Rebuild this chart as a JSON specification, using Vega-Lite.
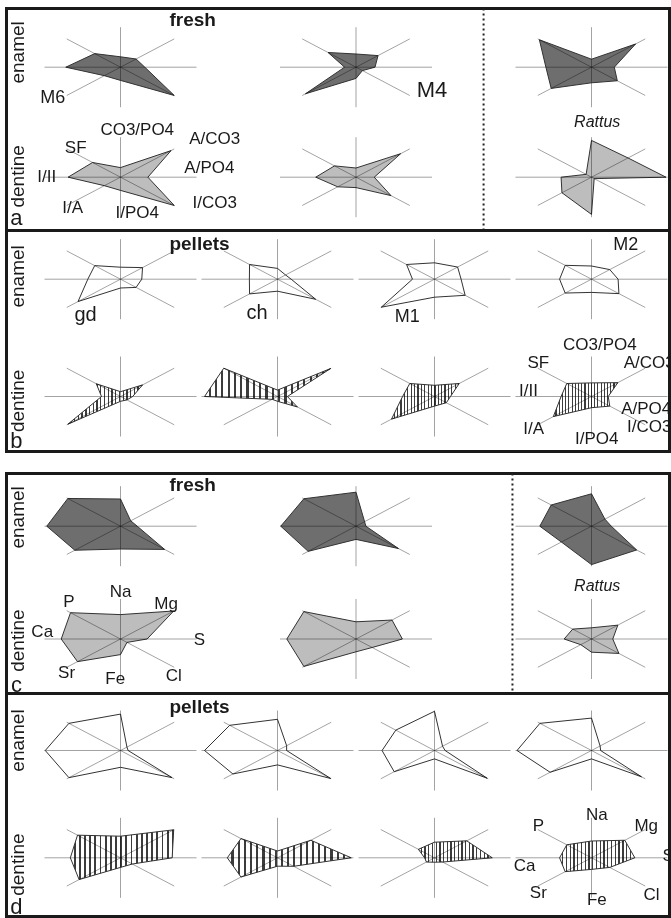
{
"$schema":"https://vega.github.io/schema/vega-lite/v6.json",
"background":"white",
"padding":{"left":4.5,"top":5.5,"right":0,"bottom":0},
"config":{"view":{"stroke":"#1a1a1a","strokeWidth":3},"font":"Liberation Sans","text":{"font":"Liberation Sans","color":"#1a1a1a"}},
"datasets":{
"isoAxes":[{"ax":"CO3/PO4","k":0},{"ax":"A/CO3","k":1},{"ax":"A/PO4","k":2},{"ax":"I/CO3","k":3},{"ax":"I/PO4","k":4},{"ax":"I/A","k":5},{"ax":"I/II","k":6},{"ax":"SF","k":7}],
"elemAxes":[{"ax":"Na","k":0},{"ax":"Mg","k":1},{"ax":"S","k":2},{"ax":"Cl","k":3},{"ax":"Fe","k":4},{"ax":"Sr","k":5},{"ax":"Ca","k":6},{"ax":"P","k":7}],
"iso":[
{"g":"fresh","s":"M6","t":"enamel","ax":"CO3/PO4","v":0.26},{"g":"fresh","s":"M6","t":"enamel","ax":"A/CO3","v":0.29},{"g":"fresh","s":"M6","t":"enamel","ax":"A/PO4","v":0.32},{"g":"fresh","s":"M6","t":"enamel","ax":"I/CO3","v":1.0},{"g":"fresh","s":"M6","t":"enamel","ax":"I/PO4","v":0.33},{"g":"fresh","s":"M6","t":"enamel","ax":"I/A","v":0.3},{"g":"fresh","s":"M6","t":"enamel","ax":"I/II","v":0.72},{"g":"fresh","s":"M6","t":"enamel","ax":"SF","v":0.48},
{"g":"fresh","s":"M6","t":"dentine","ax":"CO3/PO4","v":0.24},{"g":"fresh","s":"M6","t":"dentine","ax":"A/CO3","v":0.94},{"g":"fresh","s":"M6","t":"dentine","ax":"A/PO4","v":0.36},{"g":"fresh","s":"M6","t":"dentine","ax":"I/CO3","v":1.0},{"g":"fresh","s":"M6","t":"dentine","ax":"I/PO4","v":0.33},{"g":"fresh","s":"M6","t":"dentine","ax":"I/A","v":0.3},{"g":"fresh","s":"M6","t":"dentine","ax":"I/II","v":0.69},{"g":"fresh","s":"M6","t":"dentine","ax":"SF","v":0.52},
{"g":"fresh","s":"M4","t":"enamel","ax":"CO3/PO4","v":0.33},{"g":"fresh","s":"M4","t":"enamel","ax":"A/CO3","v":0.41},{"g":"fresh","s":"M4","t":"enamel","ax":"A/PO4","v":0.25},{"g":"fresh","s":"M4","t":"enamel","ax":"I/CO3","v":0.12},{"g":"fresh","s":"M4","t":"enamel","ax":"I/PO4","v":0.28},{"g":"fresh","s":"M4","t":"enamel","ax":"I/A","v":0.94},{"g":"fresh","s":"M4","t":"enamel","ax":"I/II","v":0.15},{"g":"fresh","s":"M4","t":"enamel","ax":"SF","v":0.52},
{"g":"fresh","s":"M4","t":"dentine","ax":"CO3/PO4","v":0.23},{"g":"fresh","s":"M4","t":"dentine","ax":"A/CO3","v":0.83},{"g":"fresh","s":"M4","t":"dentine","ax":"A/PO4","v":0.24},{"g":"fresh","s":"M4","t":"dentine","ax":"I/CO3","v":0.65},{"g":"fresh","s":"M4","t":"dentine","ax":"I/PO4","v":0.26},{"g":"fresh","s":"M4","t":"dentine","ax":"I/A","v":0.34},{"g":"fresh","s":"M4","t":"dentine","ax":"I/II","v":0.53},{"g":"fresh","s":"M4","t":"dentine","ax":"SF","v":0.4},
{"g":"fresh","s":"Rattus","t":"enamel","ax":"CO3/PO4","v":0.2},{"g":"fresh","s":"Rattus","t":"enamel","ax":"A/CO3","v":0.82},{"g":"fresh","s":"Rattus","t":"enamel","ax":"A/PO4","v":0.3},{"g":"fresh","s":"Rattus","t":"enamel","ax":"I/CO3","v":0.48},{"g":"fresh","s":"Rattus","t":"enamel","ax":"I/PO4","v":0.39},{"g":"fresh","s":"Rattus","t":"enamel","ax":"I/A","v":0.75},{"g":"fresh","s":"Rattus","t":"enamel","ax":"I/II","v":0.6},{"g":"fresh","s":"Rattus","t":"enamel","ax":"SF","v":0.97},
{"g":"fresh","s":"Rattus","t":"dentine","ax":"CO3/PO4","v":0.92},{"g":"fresh","s":"Rattus","t":"dentine","ax":"A/CO3","v":0.68},{"g":"fresh","s":"Rattus","t":"dentine","ax":"A/PO4","v":0.98},{"g":"fresh","s":"Rattus","t":"dentine","ax":"I/CO3","v":0.05},{"g":"fresh","s":"Rattus","t":"dentine","ax":"I/PO4","v":0.93},{"g":"fresh","s":"Rattus","t":"dentine","ax":"I/A","v":0.55},{"g":"fresh","s":"Rattus","t":"dentine","ax":"I/II","v":0.4},{"g":"fresh","s":"Rattus","t":"dentine","ax":"SF","v":0.1},
{"g":"pellets","s":"gd","t":"enamel","ax":"CO3/PO4","v":0.3},{"g":"pellets","s":"gd","t":"enamel","ax":"A/CO3","v":0.41},{"g":"pellets","s":"gd","t":"enamel","ax":"A/PO4","v":0.28},{"g":"pellets","s":"gd","t":"enamel","ax":"I/CO3","v":0.29},{"g":"pellets","s":"gd","t":"enamel","ax":"I/PO4","v":0.22},{"g":"pellets","s":"gd","t":"enamel","ax":"I/A","v":0.79},{"g":"pellets","s":"gd","t":"enamel","ax":"I/II","v":0.43},{"g":"pellets","s":"gd","t":"enamel","ax":"SF","v":0.48},
{"g":"pellets","s":"ch","t":"enamel","ax":"CO3/PO4","v":0.27},{"g":"pellets","s":"ch","t":"enamel","ax":"A/CO3","v":0.15},{"g":"pellets","s":"ch","t":"enamel","ax":"A/PO4","v":0.18},{"g":"pellets","s":"ch","t":"enamel","ax":"I/CO3","v":0.71},{"g":"pellets","s":"ch","t":"enamel","ax":"I/PO4","v":0.3},{"g":"pellets","s":"ch","t":"enamel","ax":"I/A","v":0.52},{"g":"pellets","s":"ch","t":"enamel","ax":"I/II","v":0.37},{"g":"pellets","s":"ch","t":"enamel","ax":"SF","v":0.52},
{"g":"pellets","s":"M1","t":"enamel","ax":"CO3/PO4","v":0.41},{"g":"pellets","s":"M1","t":"enamel","ax":"A/CO3","v":0.43},{"g":"pellets","s":"M1","t":"enamel","ax":"A/PO4","v":0.35},{"g":"pellets","s":"M1","t":"enamel","ax":"I/CO3","v":0.57},{"g":"pellets","s":"M1","t":"enamel","ax":"I/PO4","v":0.45},{"g":"pellets","s":"M1","t":"enamel","ax":"I/A","v":0.99},{"g":"pellets","s":"M1","t":"enamel","ax":"I/II","v":0.29},{"g":"pellets","s":"M1","t":"enamel","ax":"SF","v":0.52},
{"g":"pellets","s":"M2","t":"enamel","ax":"CO3/PO4","v":0.33},{"g":"pellets","s":"M2","t":"enamel","ax":"A/CO3","v":0.34},{"g":"pellets","s":"M2","t":"enamel","ax":"A/PO4","v":0.35},{"g":"pellets","s":"M2","t":"enamel","ax":"I/CO3","v":0.51},{"g":"pellets","s":"M2","t":"enamel","ax":"I/PO4","v":0.33},{"g":"pellets","s":"M2","t":"enamel","ax":"I/A","v":0.49},{"g":"pellets","s":"M2","t":"enamel","ax":"I/II","v":0.42},{"g":"pellets","s":"M2","t":"enamel","ax":"SF","v":0.49},
{"g":"pellets","s":"gd","t":"dentine","ax":"CO3/PO4","v":0.12},{"g":"pellets","s":"gd","t":"dentine","ax":"A/CO3","v":0.41},{"g":"pellets","s":"gd","t":"dentine","ax":"A/PO4","v":0.16},{"g":"pellets","s":"gd","t":"dentine","ax":"I/CO3","v":0.12},{"g":"pellets","s":"gd","t":"dentine","ax":"I/PO4","v":0.12},{"g":"pellets","s":"gd","t":"dentine","ax":"I/A","v":0.98},{"g":"pellets","s":"gd","t":"dentine","ax":"I/II","v":0.25},{"g":"pellets","s":"gd","t":"dentine","ax":"SF","v":0.45},
{"g":"pellets","s":"ch","t":"dentine","ax":"CO3/PO4","v":0.16},{"g":"pellets","s":"ch","t":"dentine","ax":"A/CO3","v":0.99},{"g":"pellets","s":"ch","t":"dentine","ax":"A/PO4","v":0.13},{"g":"pellets","s":"ch","t":"dentine","ax":"I/CO3","v":0.37},{"g":"pellets","s":"ch","t":"dentine","ax":"I/PO4","v":0.12},{"g":"pellets","s":"ch","t":"dentine","ax":"I/A","v":0.1},{"g":"pellets","s":"ch","t":"dentine","ax":"I/II","v":0.96},{"g":"pellets","s":"ch","t":"dentine","ax":"SF","v":1.0},
{"g":"pellets","s":"M1","t":"dentine","ax":"CO3/PO4","v":0.28},{"g":"pellets","s":"M1","t":"dentine","ax":"A/CO3","v":0.46},{"g":"pellets","s":"M1","t":"dentine","ax":"A/PO4","v":0.21},{"g":"pellets","s":"M1","t":"dentine","ax":"I/CO3","v":0.22},{"g":"pellets","s":"M1","t":"dentine","ax":"I/PO4","v":0.24},{"g":"pellets","s":"M1","t":"dentine","ax":"I/A","v":0.8},{"g":"pellets","s":"M1","t":"dentine","ax":"I/II","v":0.42},{"g":"pellets","s":"M1","t":"dentine","ax":"SF","v":0.46},
{"g":"pellets","s":"M2","t":"dentine","ax":"CO3/PO4","v":0.34},{"g":"pellets","s":"M2","t":"dentine","ax":"A/CO3","v":0.49},{"g":"pellets","s":"M2","t":"dentine","ax":"A/PO4","v":0.22},{"g":"pellets","s":"M2","t":"dentine","ax":"I/CO3","v":0.34},{"g":"pellets","s":"M2","t":"dentine","ax":"I/PO4","v":0.28},{"g":"pellets","s":"M2","t":"dentine","ax":"I/A","v":0.71},{"g":"pellets","s":"M2","t":"dentine","ax":"I/II","v":0.4},{"g":"pellets","s":"M2","t":"dentine","ax":"SF","v":0.46}
],
"elem":[
{"g":"fresh","s":"M6","t":"enamel","ax":"Na","v":0.68},{"g":"fresh","s":"M6","t":"enamel","ax":"Mg","v":0.19},{"g":"fresh","s":"M6","t":"enamel","ax":"S","v":0.22},{"g":"fresh","s":"M6","t":"enamel","ax":"Cl","v":0.82},{"g":"fresh","s":"M6","t":"enamel","ax":"Fe","v":0.57},{"g":"fresh","s":"M6","t":"enamel","ax":"Sr","v":0.85},{"g":"fresh","s":"M6","t":"enamel","ax":"Ca","v":0.97},{"g":"fresh","s":"M6","t":"enamel","ax":"P","v":0.98},
{"g":"fresh","s":"M6","t":"dentine","ax":"Na","v":0.61},{"g":"fresh","s":"M6","t":"dentine","ax":"Mg","v":0.99},{"g":"fresh","s":"M6","t":"dentine","ax":"S","v":0.35},{"g":"fresh","s":"M6","t":"dentine","ax":"Cl","v":0.12},{"g":"fresh","s":"M6","t":"dentine","ax":"Fe","v":0.39},{"g":"fresh","s":"M6","t":"dentine","ax":"Sr","v":0.8},{"g":"fresh","s":"M6","t":"dentine","ax":"Ca","v":0.78},{"g":"fresh","s":"M6","t":"dentine","ax":"P","v":0.93},
{"g":"fresh","s":"M4","t":"enamel","ax":"Na","v":0.85},{"g":"fresh","s":"M4","t":"enamel","ax":"Mg","v":0.16},{"g":"fresh","s":"M4","t":"enamel","ax":"S","v":0.13},{"g":"fresh","s":"M4","t":"enamel","ax":"Cl","v":0.79},{"g":"fresh","s":"M4","t":"enamel","ax":"Fe","v":0.33},{"g":"fresh","s":"M4","t":"enamel","ax":"Sr","v":0.89},{"g":"fresh","s":"M4","t":"enamel","ax":"Ca","v":0.99},{"g":"fresh","s":"M4","t":"enamel","ax":"P","v":0.97},
{"g":"fresh","s":"M4","t":"dentine","ax":"Na","v":0.43},{"g":"fresh","s":"M4","t":"dentine","ax":"Mg","v":0.67},{"g":"fresh","s":"M4","t":"dentine","ax":"S","v":0.61},{"g":"fresh","s":"M4","t":"dentine","ax":"Cl","v":0.3},{"g":"fresh","s":"M4","t":"dentine","ax":"Fe","v":0.32},{"g":"fresh","s":"M4","t":"dentine","ax":"Sr","v":0.97},{"g":"fresh","s":"M4","t":"dentine","ax":"Ca","v":0.91},{"g":"fresh","s":"M4","t":"dentine","ax":"P","v":0.97},
{"g":"fresh","s":"Rattus","t":"enamel","ax":"Na","v":0.81},{"g":"fresh","s":"Rattus","t":"enamel","ax":"Mg","v":0.25},{"g":"fresh","s":"Rattus","t":"enamel","ax":"S","v":0.26},{"g":"fresh","s":"Rattus","t":"enamel","ax":"Cl","v":0.84},{"g":"fresh","s":"Rattus","t":"enamel","ax":"Fe","v":0.96},{"g":"fresh","s":"Rattus","t":"enamel","ax":"Sr","v":0.56},{"g":"fresh","s":"Rattus","t":"enamel","ax":"Ca","v":0.68},{"g":"fresh","s":"Rattus","t":"enamel","ax":"P","v":0.75},
{"g":"fresh","s":"Rattus","t":"dentine","ax":"Na","v":0.28},{"g":"fresh","s":"Rattus","t":"dentine","ax":"Mg","v":0.49},{"g":"fresh","s":"Rattus","t":"dentine","ax":"S","v":0.28},{"g":"fresh","s":"Rattus","t":"dentine","ax":"Cl","v":0.51},{"g":"fresh","s":"Rattus","t":"dentine","ax":"Fe","v":0.33},{"g":"fresh","s":"Rattus","t":"dentine","ax":"Sr","v":0.2},{"g":"fresh","s":"Rattus","t":"dentine","ax":"Ca","v":0.36},{"g":"fresh","s":"Rattus","t":"dentine","ax":"P","v":0.35},
{"g":"pellets","s":"gd","t":"enamel","ax":"Na","v":0.91},{"g":"pellets","s":"gd","t":"enamel","ax":"Mg","v":0.12},{"g":"pellets","s":"gd","t":"enamel","ax":"S","v":0.1},{"g":"pellets","s":"gd","t":"enamel","ax":"Cl","v":0.96},{"g":"pellets","s":"gd","t":"enamel","ax":"Fe","v":0.42},{"g":"pellets","s":"gd","t":"enamel","ax":"Sr","v":0.96},{"g":"pellets","s":"gd","t":"enamel","ax":"Ca","v":0.99},{"g":"pellets","s":"gd","t":"enamel","ax":"P","v":0.96},
{"g":"pellets","s":"ch","t":"enamel","ax":"Na","v":0.78},{"g":"pellets","s":"ch","t":"enamel","ax":"Mg","v":0.17},{"g":"pellets","s":"ch","t":"enamel","ax":"S","v":0.12},{"g":"pellets","s":"ch","t":"enamel","ax":"Cl","v":0.99},{"g":"pellets","s":"ch","t":"enamel","ax":"Fe","v":0.36},{"g":"pellets","s":"ch","t":"enamel","ax":"Sr","v":0.83},{"g":"pellets","s":"ch","t":"enamel","ax":"Ca","v":0.96},{"g":"pellets","s":"ch","t":"enamel","ax":"P","v":0.89},
{"g":"pellets","s":"M1","t":"enamel","ax":"Na","v":0.98},{"g":"pellets","s":"M1","t":"enamel","ax":"Mg","v":0.15},{"g":"pellets","s":"M1","t":"enamel","ax":"S","v":0.14},{"g":"pellets","s":"M1","t":"enamel","ax":"Cl","v":0.98},{"g":"pellets","s":"M1","t":"enamel","ax":"Fe","v":0.21},{"g":"pellets","s":"M1","t":"enamel","ax":"Sr","v":0.75},{"g":"pellets","s":"M1","t":"enamel","ax":"Ca","v":0.69},{"g":"pellets","s":"M1","t":"enamel","ax":"P","v":0.72},
{"g":"pellets","s":"M2","t":"enamel","ax":"Na","v":0.81},{"g":"pellets","s":"M2","t":"enamel","ax":"Mg","v":0.16},{"g":"pellets","s":"M2","t":"enamel","ax":"S","v":0.12},{"g":"pellets","s":"M2","t":"enamel","ax":"Cl","v":0.93},{"g":"pellets","s":"M2","t":"enamel","ax":"Fe","v":0.21},{"g":"pellets","s":"M2","t":"enamel","ax":"Sr","v":0.77},{"g":"pellets","s":"M2","t":"enamel","ax":"Ca","v":0.98},{"g":"pellets","s":"M2","t":"enamel","ax":"P","v":0.96},
{"g":"pellets","s":"gd","t":"dentine","ax":"Na","v":0.54},{"g":"pellets","s":"gd","t":"dentine","ax":"Mg","v":0.99},{"g":"pellets","s":"gd","t":"dentine","ax":"S","v":0.68},{"g":"pellets","s":"gd","t":"dentine","ax":"Cl","v":0.22},{"g":"pellets","s":"gd","t":"dentine","ax":"Fe","v":0.24},{"g":"pellets","s":"gd","t":"dentine","ax":"Sr","v":0.77},{"g":"pellets","s":"gd","t":"dentine","ax":"Ca","v":0.66},{"g":"pellets","s":"gd","t":"dentine","ax":"P","v":0.8},
{"g":"pellets","s":"ch","t":"dentine","ax":"Na","v":0.17},{"g":"pellets","s":"ch","t":"dentine","ax":"Mg","v":0.62},{"g":"pellets","s":"ch","t":"dentine","ax":"S","v":0.97},{"g":"pellets","s":"ch","t":"dentine","ax":"Cl","v":0.3},{"g":"pellets","s":"ch","t":"dentine","ax":"Fe","v":0.21},{"g":"pellets","s":"ch","t":"dentine","ax":"Sr","v":0.68},{"g":"pellets","s":"ch","t":"dentine","ax":"Ca","v":0.66},{"g":"pellets","s":"ch","t":"dentine","ax":"P","v":0.68},
{"g":"pellets","s":"M1","t":"dentine","ax":"Na","v":0.39},{"g":"pellets","s":"M1","t":"dentine","ax":"Mg","v":0.6},{"g":"pellets","s":"M1","t":"dentine","ax":"S","v":0.76},{"g":"pellets","s":"M1","t":"dentine","ax":"Cl","v":0.15},{"g":"pellets","s":"M1","t":"dentine","ax":"Fe","v":0.11},{"g":"pellets","s":"M1","t":"dentine","ax":"Sr","v":0.15},{"g":"pellets","s":"M1","t":"dentine","ax":"Ca","v":0.13},{"g":"pellets","s":"M1","t":"dentine","ax":"P","v":0.3},
{"g":"pellets","s":"M2","t":"dentine","ax":"Na","v":0.42},{"g":"pellets","s":"M2","t":"dentine","ax":"Mg","v":0.62},{"g":"pellets","s":"M2","t":"dentine","ax":"S","v":0.57},{"g":"pellets","s":"M2","t":"dentine","ax":"Cl","v":0.34},{"g":"pellets","s":"M2","t":"dentine","ax":"Fe","v":0.29},{"g":"pellets","s":"M2","t":"dentine","ax":"Sr","v":0.49},{"g":"pellets","s":"M2","t":"dentine","ax":"Ca","v":0.42},{"g":"pellets","s":"M2","t":"dentine","ax":"P","v":0.46}
]
},
"spacing":16,
"vconcat":[
{"spacing":0,"bounds":"flush","vconcat":[
{
"width":663,"height":222,
"layer":[
{"data":{"name":"iso"},
 "transform":[{"filter":"datum.g === 'fresh' && datum.t === 'enamel'"},{"lookup":"ax","from":{"data":{"name":"isoAxes"},"key":"ax","fields":["k"]}},{"calculate":"PI/2 - datum.k*PI/4","as":"ang"},{"calculate":"datum.v*cos(datum.ang)","as":"px"},{"calculate":"datum.v*sin(datum.ang)","as":"py"}],
 "mark":{"type":"line","interpolate":"linear-closed","fill":"#6e6e6e","stroke":"#333333","strokeWidth":1},
 "encoding":{
  "x":{"field":"s","type":"nominal","scale":{"type":"point","domain":["M6","M4","Rattus"],"range":[114,585],"padding":0},"axis":null},
  "y":{"field":"t","type":"nominal","scale":{"type":"point","domain":["enamel","dentine"],"range":[58.7,168.7],"padding":0},"axis":null},
  "xOffset":{"field":"px","type":"quantitative","scale":{"domain":[-1,1],"range":[-76,76]}},
  "yOffset":{"field":"py","type":"quantitative","scale":{"domain":[-1,1],"range":[40,-40]}},
  "order":{"field":"k","type":"quantitative"},
  "detail":[{"field":"s","type":"nominal"},{"field":"t","type":"nominal"}]}},
{"data":{"name":"iso"},
 "transform":[{"filter":"datum.g === 'fresh' && datum.t === 'dentine'"},{"lookup":"ax","from":{"data":{"name":"isoAxes"},"key":"ax","fields":["k"]}},{"calculate":"PI/2 - datum.k*PI/4","as":"ang"},{"calculate":"datum.v*cos(datum.ang)","as":"px"},{"calculate":"datum.v*sin(datum.ang)","as":"py"}],
 "mark":{"type":"line","interpolate":"linear-closed","fill":"#bdbdbd","stroke":"#333333","strokeWidth":1},
 "encoding":{
  "x":{"field":"s","type":"nominal","scale":{"type":"point","domain":["M6","M4","Rattus"],"range":[114,585],"padding":0},"axis":null},
  "y":{"field":"t","type":"nominal","scale":{"type":"point","domain":["enamel","dentine"],"range":[58.7,168.7],"padding":0},"axis":null},
  "xOffset":{"field":"px","type":"quantitative","scale":{"domain":[-1,1],"range":[-76,76]}},
  "yOffset":{"field":"py","type":"quantitative","scale":{"domain":[-1,1],"range":[40,-40]}},
  "order":{"field":"k","type":"quantitative"},
  "detail":[{"field":"s","type":"nominal"},{"field":"t","type":"nominal"}]}},
{"data":{"name":"iso"},
 "transform":[{"filter":"datum.g === 'fresh'"},{"lookup":"ax","from":{"data":{"name":"isoAxes"},"key":"ax","fields":["k"]}},{"calculate":"PI/2 - datum.k*PI/4","as":"ang"},{"calculate":"[0, 1]","as":"e"},{"flatten":["e"]},{"calculate":"datum.e*cos(datum.ang)","as":"sx"},{"calculate":"datum.e*sin(datum.ang)","as":"sy"}],
 "mark":{"type":"line","stroke":"#a3a3a3","strokeWidth":1,"blend":"multiply"},
 "encoding":{
  "x":{"field":"s","type":"nominal","scale":{"type":"point","domain":["M6","M4","Rattus"],"range":[114,585],"padding":0},"axis":null},
  "y":{"field":"t","type":"nominal","scale":{"type":"point","domain":["enamel","dentine"],"range":[58.7,168.7],"padding":0},"axis":null},
  "xOffset":{"field":"sx","type":"quantitative","scale":{"domain":[-1,1],"range":[-76,76]}},
  "yOffset":{"field":"sy","type":"quantitative","scale":{"domain":[-1,1],"range":[40,-40]}},
  "order":{"field":"e","type":"quantitative"},
  "detail":[{"field":"s","type":"nominal"},{"field":"t","type":"nominal"},{"field":"k","type":"nominal"}]}},
{"data":{"name":"isoAxes"},
 "transform":[{"calculate":"[0.22,1.24,1.17,1.24,0.22,-0.63,-0.97,-0.59][datum.k]","as":"lx"},{"calculate":"[1.17,0.95,0.22,-0.65,-0.9,-0.78,0,0.72][datum.k]","as":"ly"}],
 "mark":{"type":"text","fontSize":17,"align":"center","baseline":"middle"},
 "encoding":{"x":{"datum":"M6","type":"nominal","scale":{"type":"point","domain":["M6","M4","Rattus"],"range":[114,585],"padding":0},"axis":null},"y":{"datum":"dentine","type":"nominal","scale":{"type":"point","domain":["enamel","dentine"],"range":[58.7,168.7],"padding":0},"axis":null},"xOffset":{"field":"lx","type":"quantitative","scale":{"domain":[-1,1],"range":[-76,76]}},"yOffset":{"field":"ly","type":"quantitative","scale":{"domain":[-1,1],"range":[40,-40]}},"text":{"field":"ax","type":"nominal"}}},
{"data":{"values":[{}]},"mark":{"type":"text","text":"fresh","fontSize":19,"fontWeight":"bold","baseline":"middle"},
 "encoding":{"x":{"datum":"M6","type":"nominal","scale":{"type":"point","domain":["M6","M4","Rattus"],"range":[114,585],"padding":0},"axis":null},"y":{"datum":"enamel","type":"nominal","scale":{"type":"point","domain":["enamel","dentine"],"range":[58.7,168.7],"padding":0},"axis":null},"xOffset":{"datum":0.95,"type":"quantitative","scale":{"domain":[-1,1],"range":[-76,76]}},"yOffset":{"datum":1.17,"type":"quantitative","scale":{"domain":[-1,1],"range":[40,-40]}}}},
{"data":{"values":[{}]},"mark":{"type":"text","text":"enamel","fontSize":19,"angle":270,"baseline":"middle"},
 "encoding":{"x":{"datum":"M6","type":"nominal","scale":{"type":"point","domain":["M6","M4","Rattus"],"range":[114,585],"padding":0},"axis":null},"y":{"datum":"enamel","type":"nominal","scale":{"type":"point","domain":["enamel","dentine"],"range":[58.7,168.7],"padding":0},"axis":null},"xOffset":{"datum":-1.35,"type":"quantitative","scale":{"domain":[-1,1],"range":[-76,76]}},"yOffset":{"datum":0.37,"type":"quantitative","scale":{"domain":[-1,1],"range":[40,-40]}}}},
{"data":{"values":[{}]},"mark":{"type":"text","text":"dentine","fontSize":19,"angle":270,"baseline":"middle"},
 "encoding":{"x":{"datum":"M6","type":"nominal","scale":{"type":"point","domain":["M6","M4","Rattus"],"range":[114,585],"padding":0},"axis":null},"y":{"datum":"dentine","type":"nominal","scale":{"type":"point","domain":["enamel","dentine"],"range":[58.7,168.7],"padding":0},"axis":null},"xOffset":{"datum":-1.35,"type":"quantitative","scale":{"domain":[-1,1],"range":[-76,76]}},"yOffset":{"datum":0.02,"type":"quantitative","scale":{"domain":[-1,1],"range":[40,-40]}}}},
{"data":{"values":[{}]},"mark":{"type":"text","text":"M6","fontSize":18,"baseline":"middle"},
 "encoding":{"x":{"datum":"M6","type":"nominal","scale":{"type":"point","domain":["M6","M4","Rattus"],"range":[114,585],"padding":0},"axis":null},"y":{"datum":"enamel","type":"nominal","scale":{"type":"point","domain":["enamel","dentine"],"range":[58.7,168.7],"padding":0},"axis":null},"xOffset":{"datum":-0.89,"type":"quantitative","scale":{"domain":[-1,1],"range":[-76,76]}},"yOffset":{"datum":-0.78,"type":"quantitative","scale":{"domain":[-1,1],"range":[40,-40]}}}},
{"data":{"values":[{}]},"mark":{"type":"text","text":"M4","fontSize":22,"baseline":"middle"},
 "encoding":{"x":{"datum":"M4","type":"nominal","scale":{"type":"point","domain":["M6","M4","Rattus"],"range":[114,585],"padding":0},"axis":null},"y":{"datum":"enamel","type":"nominal","scale":{"type":"point","domain":["enamel","dentine"],"range":[58.7,168.7],"padding":0},"axis":null},"xOffset":{"datum":1.0,"type":"quantitative","scale":{"domain":[-1,1],"range":[-76,76]}},"yOffset":{"datum":-0.57,"type":"quantitative","scale":{"domain":[-1,1],"range":[40,-40]}}}},
{"data":{"values":[{}]},"mark":{"type":"text","text":"Rattus","fontSize":16,"fontStyle":"italic","baseline":"middle"},
 "encoding":{"x":{"datum":"Rattus","type":"nominal","scale":{"type":"point","domain":["M6","M4","Rattus"],"range":[114,585],"padding":0},"axis":null},"y":{"datum":"enamel","type":"nominal","scale":{"type":"point","domain":["enamel","dentine"],"range":[58.7,168.7],"padding":0},"axis":null},"xOffset":{"datum":0.075,"type":"quantitative","scale":{"domain":[-1,1],"range":[-76,76]}},"yOffset":{"datum":-1.36,"type":"quantitative","scale":{"domain":[-1,1],"range":[40,-40]}}}},
{"data":{"values":[{}]},"mark":{"type":"text","text":"a","fontSize":22,"baseline":"middle"},
 "encoding":{"x":{"datum":"M6","type":"nominal","scale":{"type":"point","domain":["M6","M4","Rattus"],"range":[114,585],"padding":0},"axis":null},"y":{"datum":"dentine","type":"nominal","scale":{"type":"point","domain":["enamel","dentine"],"range":[58.7,168.7],"padding":0},"axis":null},"xOffset":{"datum":-1.37,"type":"quantitative","scale":{"domain":[-1,1],"range":[-76,76]}},"yOffset":{"datum":-1.03,"type":"quantitative","scale":{"domain":[-1,1],"range":[40,-40]}}}},
{"data":{"values":[{}]},"mark":{"type":"rule","stroke":"#222222","strokeWidth":2,"strokeDash":[2,3]},
 "encoding":{"x":{"datum":"Rattus","type":"nominal","scale":{"type":"point","domain":["M6","M4","Rattus"],"range":[114,585],"padding":0},"axis":null},"xOffset":{"datum":-1.42,"type":"quantitative","scale":{"domain":[-1,1],"range":[-76,76]}}}}
]},
{
"width":663,"height":221,
"layer":[
{"data":{"name":"iso"},
 "transform":[{"filter":"datum.g === 'pellets' && datum.t === 'enamel'"},{"lookup":"ax","from":{"data":{"name":"isoAxes"},"key":"ax","fields":["k"]}},{"calculate":"PI/2 - datum.k*PI/4","as":"ang"},{"calculate":"datum.v*cos(datum.ang)","as":"px"},{"calculate":"datum.v*sin(datum.ang)","as":"py"}],
 "mark":{"type":"line","interpolate":"linear-closed","stroke":"#333333","strokeWidth":1},
 "encoding":{
  "x":{"field":"s","type":"nominal","scale":{"type":"point","domain":["gd","ch","M1","M2"],"range":[114,585],"padding":0},"axis":null},
  "y":{"field":"t","type":"nominal","scale":{"type":"point","domain":["enamel","dentine"],"range":[48.7,166],"padding":0},"axis":null},
  "xOffset":{"field":"px","type":"quantitative","scale":{"domain":[-1,1],"range":[-76,76]}},
  "yOffset":{"field":"py","type":"quantitative","scale":{"domain":[-1,1],"range":[40,-40]}},
  "order":{"field":"k","type":"quantitative"},
  "detail":[{"field":"s","type":"nominal"},{"field":"t","type":"nominal"}]}},
{"data":{"name":"iso"},
 "transform":[{"filter":"datum.g === 'pellets' && datum.t === 'dentine'"},{"lookup":"ax","from":{"data":{"name":"isoAxes"},"key":"ax","fields":["k"]}},{"calculate":"PI/2 - datum.k*PI/4","as":"ang"},{"calculate":"datum.v*cos(datum.ang)","as":"px"},{"calculate":"datum.v*sin(datum.ang)","as":"py"}],
 "mark":{"type":"line","interpolate":"linear-closed","stroke":"#333333","strokeWidth":1,
  "fill":{"gradient":"linear","x1":0,"y1":0,"x2":1,"y2":0,"stops":[
{"offset":0,"color":"#ffffff"},{"offset":0.0325,"color":"#ffffff"},{"offset":0.0325,"color":"#3c3c3c"},{"offset":0.05,"color":"#3c3c3c"},
{"offset":0.05,"color":"#ffffff"},{"offset":0.0825,"color":"#ffffff"},{"offset":0.0825,"color":"#3c3c3c"},{"offset":0.1,"color":"#3c3c3c"},
{"offset":0.1,"color":"#ffffff"},{"offset":0.1325,"color":"#ffffff"},{"offset":0.1325,"color":"#3c3c3c"},{"offset":0.15,"color":"#3c3c3c"},
{"offset":0.15,"color":"#ffffff"},{"offset":0.1825,"color":"#ffffff"},{"offset":0.1825,"color":"#3c3c3c"},{"offset":0.2,"color":"#3c3c3c"},
{"offset":0.2,"color":"#ffffff"},{"offset":0.2325,"color":"#ffffff"},{"offset":0.2325,"color":"#3c3c3c"},{"offset":0.25,"color":"#3c3c3c"},
{"offset":0.25,"color":"#ffffff"},{"offset":0.2825,"color":"#ffffff"},{"offset":0.2825,"color":"#3c3c3c"},{"offset":0.3,"color":"#3c3c3c"},
{"offset":0.3,"color":"#ffffff"},{"offset":0.3325,"color":"#ffffff"},{"offset":0.3325,"color":"#3c3c3c"},{"offset":0.35,"color":"#3c3c3c"},
{"offset":0.35,"color":"#ffffff"},{"offset":0.3825,"color":"#ffffff"},{"offset":0.3825,"color":"#3c3c3c"},{"offset":0.4,"color":"#3c3c3c"},
{"offset":0.4,"color":"#ffffff"},{"offset":0.4325,"color":"#ffffff"},{"offset":0.4325,"color":"#3c3c3c"},{"offset":0.45,"color":"#3c3c3c"},
{"offset":0.45,"color":"#ffffff"},{"offset":0.4825,"color":"#ffffff"},{"offset":0.4825,"color":"#3c3c3c"},{"offset":0.5,"color":"#3c3c3c"},
{"offset":0.5,"color":"#ffffff"},{"offset":0.5325,"color":"#ffffff"},{"offset":0.5325,"color":"#3c3c3c"},{"offset":0.55,"color":"#3c3c3c"},
{"offset":0.55,"color":"#ffffff"},{"offset":0.5825,"color":"#ffffff"},{"offset":0.5825,"color":"#3c3c3c"},{"offset":0.6,"color":"#3c3c3c"},
{"offset":0.6,"color":"#ffffff"},{"offset":0.6325,"color":"#ffffff"},{"offset":0.6325,"color":"#3c3c3c"},{"offset":0.65,"color":"#3c3c3c"},
{"offset":0.65,"color":"#ffffff"},{"offset":0.6825,"color":"#ffffff"},{"offset":0.6825,"color":"#3c3c3c"},{"offset":0.7,"color":"#3c3c3c"},
{"offset":0.7,"color":"#ffffff"},{"offset":0.7325,"color":"#ffffff"},{"offset":0.7325,"color":"#3c3c3c"},{"offset":0.75,"color":"#3c3c3c"},
{"offset":0.75,"color":"#ffffff"},{"offset":0.7825,"color":"#ffffff"},{"offset":0.7825,"color":"#3c3c3c"},{"offset":0.8,"color":"#3c3c3c"},
{"offset":0.8,"color":"#ffffff"},{"offset":0.8325,"color":"#ffffff"},{"offset":0.8325,"color":"#3c3c3c"},{"offset":0.85,"color":"#3c3c3c"},
{"offset":0.85,"color":"#ffffff"},{"offset":0.8825,"color":"#ffffff"},{"offset":0.8825,"color":"#3c3c3c"},{"offset":0.9,"color":"#3c3c3c"},
{"offset":0.9,"color":"#ffffff"},{"offset":0.9325,"color":"#ffffff"},{"offset":0.9325,"color":"#3c3c3c"},{"offset":0.95,"color":"#3c3c3c"},
{"offset":0.95,"color":"#ffffff"},{"offset":0.9825,"color":"#ffffff"},{"offset":0.9825,"color":"#3c3c3c"},{"offset":1,"color":"#3c3c3c"}]}},
 "encoding":{
  "x":{"field":"s","type":"nominal","scale":{"type":"point","domain":["gd","ch","M1","M2"],"range":[114,585],"padding":0},"axis":null},
  "y":{"field":"t","type":"nominal","scale":{"type":"point","domain":["enamel","dentine"],"range":[48.7,166],"padding":0},"axis":null},
  "xOffset":{"field":"px","type":"quantitative","scale":{"domain":[-1,1],"range":[-76,76]}},
  "yOffset":{"field":"py","type":"quantitative","scale":{"domain":[-1,1],"range":[40,-40]}},
  "order":{"field":"k","type":"quantitative"},
  "detail":[{"field":"s","type":"nominal"},{"field":"t","type":"nominal"}]}},
{"data":{"name":"iso"},
 "transform":[{"filter":"datum.g === 'pellets'"},{"lookup":"ax","from":{"data":{"name":"isoAxes"},"key":"ax","fields":["k"]}},{"calculate":"PI/2 - datum.k*PI/4","as":"ang"},{"calculate":"[0, 1]","as":"e"},{"flatten":["e"]},{"calculate":"datum.e*cos(datum.ang)","as":"sx"},{"calculate":"datum.e*sin(datum.ang)","as":"sy"}],
 "mark":{"type":"line","stroke":"#a3a3a3","strokeWidth":1,"blend":"multiply"},
 "encoding":{
  "x":{"field":"s","type":"nominal","scale":{"type":"point","domain":["gd","ch","M1","M2"],"range":[114,585],"padding":0},"axis":null},
  "y":{"field":"t","type":"nominal","scale":{"type":"point","domain":["enamel","dentine"],"range":[48.7,166],"padding":0},"axis":null},
  "xOffset":{"field":"sx","type":"quantitative","scale":{"domain":[-1,1],"range":[-76,76]}},
  "yOffset":{"field":"sy","type":"quantitative","scale":{"domain":[-1,1],"range":[40,-40]}},
  "order":{"field":"e","type":"quantitative"},
  "detail":[{"field":"s","type":"nominal"},{"field":"t","type":"nominal"},{"field":"k","type":"nominal"}]}},
{"data":{"name":"isoAxes"},
 "transform":[{"calculate":"[0.11,0.76,0.72,0.76,0.07,-0.76,-0.83,-0.7][datum.k]","as":"lx"},{"calculate":"[1.3,0.85,-0.3,-0.75,-1.07,-0.8,0.15,0.83][datum.k]","as":"ly"}],
 "mark":{"type":"text","fontSize":17,"align":"center","baseline":"middle"},
 "encoding":{"x":{"datum":"M2","type":"nominal","scale":{"type":"point","domain":["gd","ch","M1","M2"],"range":[114,585],"padding":0},"axis":null},"y":{"datum":"dentine","type":"nominal","scale":{"type":"point","domain":["enamel","dentine"],"range":[48.7,166],"padding":0},"axis":null},"xOffset":{"field":"lx","type":"quantitative","scale":{"domain":[-1,1],"range":[-76,76]}},"yOffset":{"field":"ly","type":"quantitative","scale":{"domain":[-1,1],"range":[40,-40]}},"text":{"field":"ax","type":"nominal"}}},
{"data":{"values":[{}]},"mark":{"type":"text","text":"pellets","fontSize":19,"fontWeight":"bold","baseline":"middle"},
 "encoding":{"x":{"datum":"gd","type":"nominal","scale":{"type":"point","domain":["gd","ch","M1","M2"],"range":[114,585],"padding":0},"axis":null},"y":{"datum":"enamel","type":"nominal","scale":{"type":"point","domain":["enamel","dentine"],"range":[48.7,166],"padding":0},"axis":null},"xOffset":{"datum":1.04,"type":"quantitative","scale":{"domain":[-1,1],"range":[-76,76]}},"yOffset":{"datum":0.89,"type":"quantitative","scale":{"domain":[-1,1],"range":[40,-40]}}}},
{"data":{"values":[{}]},"mark":{"type":"text","text":"enamel","fontSize":19,"angle":270,"baseline":"middle"},
 "encoding":{"x":{"datum":"gd","type":"nominal","scale":{"type":"point","domain":["gd","ch","M1","M2"],"range":[114,585],"padding":0},"axis":null},"y":{"datum":"enamel","type":"nominal","scale":{"type":"point","domain":["enamel","dentine"],"range":[48.7,166],"padding":0},"axis":null},"xOffset":{"datum":-1.35,"type":"quantitative","scale":{"domain":[-1,1],"range":[-76,76]}},"yOffset":{"datum":0.07,"type":"quantitative","scale":{"domain":[-1,1],"range":[40,-40]}}}},
{"data":{"values":[{}]},"mark":{"type":"text","text":"dentine","fontSize":19,"angle":270,"baseline":"middle"},
 "encoding":{"x":{"datum":"gd","type":"nominal","scale":{"type":"point","domain":["gd","ch","M1","M2"],"range":[114,585],"padding":0},"axis":null},"y":{"datum":"dentine","type":"nominal","scale":{"type":"point","domain":["enamel","dentine"],"range":[48.7,166],"padding":0},"axis":null},"xOffset":{"datum":-1.35,"type":"quantitative","scale":{"domain":[-1,1],"range":[-76,76]}},"yOffset":{"datum":-0.11,"type":"quantitative","scale":{"domain":[-1,1],"range":[40,-40]}}}},
{"data":{"values":[{}]},"mark":{"type":"text","text":"gd","fontSize":20,"baseline":"middle"},
 "encoding":{"x":{"datum":"gd","type":"nominal","scale":{"type":"point","domain":["gd","ch","M1","M2"],"range":[114,585],"padding":0},"axis":null},"y":{"datum":"enamel","type":"nominal","scale":{"type":"point","domain":["enamel","dentine"],"range":[48.7,166],"padding":0},"axis":null},"xOffset":{"datum":-0.46,"type":"quantitative","scale":{"domain":[-1,1],"range":[-76,76]}},"yOffset":{"datum":-0.89,"type":"quantitative","scale":{"domain":[-1,1],"range":[40,-40]}}}},
{"data":{"values":[{}]},"mark":{"type":"text","text":"ch","fontSize":20,"baseline":"middle"},
 "encoding":{"x":{"datum":"ch","type":"nominal","scale":{"type":"point","domain":["gd","ch","M1","M2"],"range":[114,585],"padding":0},"axis":null},"y":{"datum":"enamel","type":"nominal","scale":{"type":"point","domain":["enamel","dentine"],"range":[48.7,166],"padding":0},"axis":null},"xOffset":{"datum":-0.27,"type":"quantitative","scale":{"domain":[-1,1],"range":[-76,76]}},"yOffset":{"datum":-0.85,"type":"quantitative","scale":{"domain":[-1,1],"range":[40,-40]}}}},
{"data":{"values":[{}]},"mark":{"type":"text","text":"M1","fontSize":18,"baseline":"middle"},
 "encoding":{"x":{"datum":"M1","type":"nominal","scale":{"type":"point","domain":["gd","ch","M1","M2"],"range":[114,585],"padding":0},"axis":null},"y":{"datum":"enamel","type":"nominal","scale":{"type":"point","domain":["enamel","dentine"],"range":[48.7,166],"padding":0},"axis":null},"xOffset":{"datum":-0.36,"type":"quantitative","scale":{"domain":[-1,1],"range":[-76,76]}},"yOffset":{"datum":-0.95,"type":"quantitative","scale":{"domain":[-1,1],"range":[40,-40]}}}},
{"data":{"values":[{}]},"mark":{"type":"text","text":"M2","fontSize":18,"baseline":"middle"},
 "encoding":{"x":{"datum":"M2","type":"nominal","scale":{"type":"point","domain":["gd","ch","M1","M2"],"range":[114,585],"padding":0},"axis":null},"y":{"datum":"enamel","type":"nominal","scale":{"type":"point","domain":["enamel","dentine"],"range":[48.7,166],"padding":0},"axis":null},"xOffset":{"datum":0.45,"type":"quantitative","scale":{"domain":[-1,1],"range":[-76,76]}},"yOffset":{"datum":0.86,"type":"quantitative","scale":{"domain":[-1,1],"range":[40,-40]}}}},
{"data":{"values":[{}]},"mark":{"type":"text","text":"b","fontSize":22,"baseline":"middle"},
 "encoding":{"x":{"datum":"gd","type":"nominal","scale":{"type":"point","domain":["gd","ch","M1","M2"],"range":[114,585],"padding":0},"axis":null},"y":{"datum":"dentine","type":"nominal","scale":{"type":"point","domain":["enamel","dentine"],"range":[48.7,166],"padding":0},"axis":null},"xOffset":{"datum":-1.37,"type":"quantitative","scale":{"domain":[-1,1],"range":[-76,76]}},"yOffset":{"datum":-1.12,"type":"quantitative","scale":{"domain":[-1,1],"range":[40,-40]}}}}
]}
]},
{"spacing":0,"bounds":"flush","vconcat":[
{
"width":663,"height":220,
"layer":[
{"data":{"name":"elem"},
 "transform":[{"filter":"datum.g === 'fresh' && datum.t === 'enamel'"},{"lookup":"ax","from":{"data":{"name":"elemAxes"},"key":"ax","fields":["k"]}},{"calculate":"PI/2 - datum.k*PI/4","as":"ang"},{"calculate":"datum.v*cos(datum.ang)","as":"px"},{"calculate":"datum.v*sin(datum.ang)","as":"py"}],
 "mark":{"type":"line","interpolate":"linear-closed","fill":"#6e6e6e","stroke":"#333333","strokeWidth":1},
 "encoding":{
  "x":{"field":"s","type":"nominal","scale":{"type":"point","domain":["M6","M4","Rattus"],"range":[114,585],"padding":0},"axis":null},
  "y":{"field":"t","type":"nominal","scale":{"type":"point","domain":["enamel","dentine"],"range":[52.7,165.5],"padding":0},"axis":null},
  "xOffset":{"field":"px","type":"quantitative","scale":{"domain":[-1,1],"range":[-76,76]}},
  "yOffset":{"field":"py","type":"quantitative","scale":{"domain":[-1,1],"range":[40,-40]}},
  "order":{"field":"k","type":"quantitative"},
  "detail":[{"field":"s","type":"nominal"},{"field":"t","type":"nominal"}]}},
{"data":{"name":"elem"},
 "transform":[{"filter":"datum.g === 'fresh' && datum.t === 'dentine'"},{"lookup":"ax","from":{"data":{"name":"elemAxes"},"key":"ax","fields":["k"]}},{"calculate":"PI/2 - datum.k*PI/4","as":"ang"},{"calculate":"datum.v*cos(datum.ang)","as":"px"},{"calculate":"datum.v*sin(datum.ang)","as":"py"}],
 "mark":{"type":"line","interpolate":"linear-closed","fill":"#bdbdbd","stroke":"#333333","strokeWidth":1},
 "encoding":{
  "x":{"field":"s","type":"nominal","scale":{"type":"point","domain":["M6","M4","Rattus"],"range":[114,585],"padding":0},"axis":null},
  "y":{"field":"t","type":"nominal","scale":{"type":"point","domain":["enamel","dentine"],"range":[52.7,165.5],"padding":0},"axis":null},
  "xOffset":{"field":"px","type":"quantitative","scale":{"domain":[-1,1],"range":[-76,76]}},
  "yOffset":{"field":"py","type":"quantitative","scale":{"domain":[-1,1],"range":[40,-40]}},
  "order":{"field":"k","type":"quantitative"},
  "detail":[{"field":"s","type":"nominal"},{"field":"t","type":"nominal"}]}},
{"data":{"name":"elem"},
 "transform":[{"filter":"datum.g === 'fresh'"},{"lookup":"ax","from":{"data":{"name":"elemAxes"},"key":"ax","fields":["k"]}},{"calculate":"PI/2 - datum.k*PI/4","as":"ang"},{"calculate":"[0, 1]","as":"e"},{"flatten":["e"]},{"calculate":"datum.e*cos(datum.ang)","as":"sx"},{"calculate":"datum.e*sin(datum.ang)","as":"sy"}],
 "mark":{"type":"line","stroke":"#a3a3a3","strokeWidth":1,"blend":"multiply"},
 "encoding":{
  "x":{"field":"s","type":"nominal","scale":{"type":"point","domain":["M6","M4","Rattus"],"range":[114,585],"padding":0},"axis":null},
  "y":{"field":"t","type":"nominal","scale":{"type":"point","domain":["enamel","dentine"],"range":[52.7,165.5],"padding":0},"axis":null},
  "xOffset":{"field":"sx","type":"quantitative","scale":{"domain":[-1,1],"range":[-76,76]}},
  "yOffset":{"field":"sy","type":"quantitative","scale":{"domain":[-1,1],"range":[40,-40]}},
  "order":{"field":"e","type":"quantitative"},
  "detail":[{"field":"s","type":"nominal"},{"field":"t","type":"nominal"},{"field":"k","type":"nominal"}]}},
{"data":{"name":"elemAxes"},
 "transform":[{"calculate":"[0,0.6,1.04,0.7,-0.07,-0.71,-1.03,-0.68][datum.k]","as":"lx"},{"calculate":"[1.17,0.87,-0.02,-0.92,-1.0,-0.85,0.17,0.92][datum.k]","as":"ly"}],
 "mark":{"type":"text","fontSize":17,"align":"center","baseline":"middle"},
 "encoding":{"x":{"datum":"M6","type":"nominal","scale":{"type":"point","domain":["M6","M4","Rattus"],"range":[114,585],"padding":0},"axis":null},"y":{"datum":"dentine","type":"nominal","scale":{"type":"point","domain":["enamel","dentine"],"range":[52.7,165.5],"padding":0},"axis":null},"xOffset":{"field":"lx","type":"quantitative","scale":{"domain":[-1,1],"range":[-76,76]}},"yOffset":{"field":"ly","type":"quantitative","scale":{"domain":[-1,1],"range":[40,-40]}},"text":{"field":"ax","type":"nominal"}}},
{"data":{"values":[{}]},"mark":{"type":"text","text":"fresh","fontSize":19,"fontWeight":"bold","baseline":"middle"},
 "encoding":{"x":{"datum":"M6","type":"nominal","scale":{"type":"point","domain":["M6","M4","Rattus"],"range":[114,585],"padding":0},"axis":null},"y":{"datum":"enamel","type":"nominal","scale":{"type":"point","domain":["enamel","dentine"],"range":[52.7,165.5],"padding":0},"axis":null},"xOffset":{"datum":0.95,"type":"quantitative","scale":{"domain":[-1,1],"range":[-76,76]}},"yOffset":{"datum":1.02,"type":"quantitative","scale":{"domain":[-1,1],"range":[40,-40]}}}},
{"data":{"values":[{}]},"mark":{"type":"text","text":"enamel","fontSize":19,"angle":270,"baseline":"middle"},
 "encoding":{"x":{"datum":"M6","type":"nominal","scale":{"type":"point","domain":["M6","M4","Rattus"],"range":[114,585],"padding":0},"axis":null},"y":{"datum":"enamel","type":"nominal","scale":{"type":"point","domain":["enamel","dentine"],"range":[52.7,165.5],"padding":0},"axis":null},"xOffset":{"datum":-1.35,"type":"quantitative","scale":{"domain":[-1,1],"range":[-76,76]}},"yOffset":{"datum":0.22,"type":"quantitative","scale":{"domain":[-1,1],"range":[40,-40]}}}},
{"data":{"values":[{}]},"mark":{"type":"text","text":"dentine","fontSize":19,"angle":270,"baseline":"middle"},
 "encoding":{"x":{"datum":"M6","type":"nominal","scale":{"type":"point","domain":["M6","M4","Rattus"],"range":[114,585],"padding":0},"axis":null},"y":{"datum":"dentine","type":"nominal","scale":{"type":"point","domain":["enamel","dentine"],"range":[52.7,165.5],"padding":0},"axis":null},"xOffset":{"datum":-1.35,"type":"quantitative","scale":{"domain":[-1,1],"range":[-76,76]}},"yOffset":{"datum":-0.04,"type":"quantitative","scale":{"domain":[-1,1],"range":[40,-40]}}}},
{"data":{"values":[{}]},"mark":{"type":"text","text":"Rattus","fontSize":16,"fontStyle":"italic","baseline":"middle"},
 "encoding":{"x":{"datum":"Rattus","type":"nominal","scale":{"type":"point","domain":["M6","M4","Rattus"],"range":[114,585],"padding":0},"axis":null},"y":{"datum":"enamel","type":"nominal","scale":{"type":"point","domain":["enamel","dentine"],"range":[52.7,165.5],"padding":0},"axis":null},"xOffset":{"datum":0.075,"type":"quantitative","scale":{"domain":[-1,1],"range":[-76,76]}},"yOffset":{"datum":-1.5,"type":"quantitative","scale":{"domain":[-1,1],"range":[40,-40]}}}},
{"data":{"values":[{}]},"mark":{"type":"text","text":"c","fontSize":22,"baseline":"middle"},
 "encoding":{"x":{"datum":"M6","type":"nominal","scale":{"type":"point","domain":["M6","M4","Rattus"],"range":[114,585],"padding":0},"axis":null},"y":{"datum":"dentine","type":"nominal","scale":{"type":"point","domain":["enamel","dentine"],"range":[52.7,165.5],"padding":0},"axis":null},"xOffset":{"datum":-1.37,"type":"quantitative","scale":{"domain":[-1,1],"range":[-76,76]}},"yOffset":{"datum":-1.14,"type":"quantitative","scale":{"domain":[-1,1],"range":[40,-40]}}}},
{"data":{"values":[{}]},"mark":{"type":"rule","stroke":"#222222","strokeWidth":2,"strokeDash":[2,3]},
 "encoding":{"x":{"datum":"Rattus","type":"nominal","scale":{"type":"point","domain":["M6","M4","Rattus"],"range":[114,585],"padding":0},"axis":null},"xOffset":{"datum":-1.04,"type":"quantitative","scale":{"domain":[-1,1],"range":[-76,76]}}}}
]},
{
"width":663,"height":223,
"layer":[
{"data":{"name":"elem"},
 "transform":[{"filter":"datum.g === 'pellets' && datum.t === 'enamel'"},{"lookup":"ax","from":{"data":{"name":"elemAxes"},"key":"ax","fields":["k"]}},{"calculate":"PI/2 - datum.k*PI/4","as":"ang"},{"calculate":"datum.v*cos(datum.ang)","as":"px"},{"calculate":"datum.v*sin(datum.ang)","as":"py"}],
 "mark":{"type":"line","interpolate":"linear-closed","stroke":"#333333","strokeWidth":1},
 "encoding":{
  "x":{"field":"s","type":"nominal","scale":{"type":"point","domain":["gd","ch","M1","M2"],"range":[114,585],"padding":0},"axis":null},
  "y":{"field":"t","type":"nominal","scale":{"type":"point","domain":["enamel","dentine"],"range":[57,164.3],"padding":0},"axis":null},
  "xOffset":{"field":"px","type":"quantitative","scale":{"domain":[-1,1],"range":[-76,76]}},
  "yOffset":{"field":"py","type":"quantitative","scale":{"domain":[-1,1],"range":[40,-40]}},
  "order":{"field":"k","type":"quantitative"},
  "detail":[{"field":"s","type":"nominal"},{"field":"t","type":"nominal"}]}},
{"data":{"name":"elem"},
 "transform":[{"filter":"datum.g === 'pellets' && datum.t === 'dentine'"},{"lookup":"ax","from":{"data":{"name":"elemAxes"},"key":"ax","fields":["k"]}},{"calculate":"PI/2 - datum.k*PI/4","as":"ang"},{"calculate":"datum.v*cos(datum.ang)","as":"px"},{"calculate":"datum.v*sin(datum.ang)","as":"py"}],
 "mark":{"type":"line","interpolate":"linear-closed","stroke":"#333333","strokeWidth":1,
  "fill":{"gradient":"linear","x1":0,"y1":0,"x2":1,"y2":0,"stops":[
{"offset":0,"color":"#ffffff"},{"offset":0.0325,"color":"#ffffff"},{"offset":0.0325,"color":"#3c3c3c"},{"offset":0.05,"color":"#3c3c3c"},
{"offset":0.05,"color":"#ffffff"},{"offset":0.0825,"color":"#ffffff"},{"offset":0.0825,"color":"#3c3c3c"},{"offset":0.1,"color":"#3c3c3c"},
{"offset":0.1,"color":"#ffffff"},{"offset":0.1325,"color":"#ffffff"},{"offset":0.1325,"color":"#3c3c3c"},{"offset":0.15,"color":"#3c3c3c"},
{"offset":0.15,"color":"#ffffff"},{"offset":0.1825,"color":"#ffffff"},{"offset":0.1825,"color":"#3c3c3c"},{"offset":0.2,"color":"#3c3c3c"},
{"offset":0.2,"color":"#ffffff"},{"offset":0.2325,"color":"#ffffff"},{"offset":0.2325,"color":"#3c3c3c"},{"offset":0.25,"color":"#3c3c3c"},
{"offset":0.25,"color":"#ffffff"},{"offset":0.2825,"color":"#ffffff"},{"offset":0.2825,"color":"#3c3c3c"},{"offset":0.3,"color":"#3c3c3c"},
{"offset":0.3,"color":"#ffffff"},{"offset":0.3325,"color":"#ffffff"},{"offset":0.3325,"color":"#3c3c3c"},{"offset":0.35,"color":"#3c3c3c"},
{"offset":0.35,"color":"#ffffff"},{"offset":0.3825,"color":"#ffffff"},{"offset":0.3825,"color":"#3c3c3c"},{"offset":0.4,"color":"#3c3c3c"},
{"offset":0.4,"color":"#ffffff"},{"offset":0.4325,"color":"#ffffff"},{"offset":0.4325,"color":"#3c3c3c"},{"offset":0.45,"color":"#3c3c3c"},
{"offset":0.45,"color":"#ffffff"},{"offset":0.4825,"color":"#ffffff"},{"offset":0.4825,"color":"#3c3c3c"},{"offset":0.5,"color":"#3c3c3c"},
{"offset":0.5,"color":"#ffffff"},{"offset":0.5325,"color":"#ffffff"},{"offset":0.5325,"color":"#3c3c3c"},{"offset":0.55,"color":"#3c3c3c"},
{"offset":0.55,"color":"#ffffff"},{"offset":0.5825,"color":"#ffffff"},{"offset":0.5825,"color":"#3c3c3c"},{"offset":0.6,"color":"#3c3c3c"},
{"offset":0.6,"color":"#ffffff"},{"offset":0.6325,"color":"#ffffff"},{"offset":0.6325,"color":"#3c3c3c"},{"offset":0.65,"color":"#3c3c3c"},
{"offset":0.65,"color":"#ffffff"},{"offset":0.6825,"color":"#ffffff"},{"offset":0.6825,"color":"#3c3c3c"},{"offset":0.7,"color":"#3c3c3c"},
{"offset":0.7,"color":"#ffffff"},{"offset":0.7325,"color":"#ffffff"},{"offset":0.7325,"color":"#3c3c3c"},{"offset":0.75,"color":"#3c3c3c"},
{"offset":0.75,"color":"#ffffff"},{"offset":0.7825,"color":"#ffffff"},{"offset":0.7825,"color":"#3c3c3c"},{"offset":0.8,"color":"#3c3c3c"},
{"offset":0.8,"color":"#ffffff"},{"offset":0.8325,"color":"#ffffff"},{"offset":0.8325,"color":"#3c3c3c"},{"offset":0.85,"color":"#3c3c3c"},
{"offset":0.85,"color":"#ffffff"},{"offset":0.8825,"color":"#ffffff"},{"offset":0.8825,"color":"#3c3c3c"},{"offset":0.9,"color":"#3c3c3c"},
{"offset":0.9,"color":"#ffffff"},{"offset":0.9325,"color":"#ffffff"},{"offset":0.9325,"color":"#3c3c3c"},{"offset":0.95,"color":"#3c3c3c"},
{"offset":0.95,"color":"#ffffff"},{"offset":0.9825,"color":"#ffffff"},{"offset":0.9825,"color":"#3c3c3c"},{"offset":1,"color":"#3c3c3c"}]}},
 "encoding":{
  "x":{"field":"s","type":"nominal","scale":{"type":"point","domain":["gd","ch","M1","M2"],"range":[114,585],"padding":0},"axis":null},
  "y":{"field":"t","type":"nominal","scale":{"type":"point","domain":["enamel","dentine"],"range":[57,164.3],"padding":0},"axis":null},
  "xOffset":{"field":"px","type":"quantitative","scale":{"domain":[-1,1],"range":[-76,76]}},
  "yOffset":{"field":"py","type":"quantitative","scale":{"domain":[-1,1],"range":[40,-40]}},
  "order":{"field":"k","type":"quantitative"},
  "detail":[{"field":"s","type":"nominal"},{"field":"t","type":"nominal"}]}},
{"data":{"name":"elem"},
 "transform":[{"filter":"datum.g === 'pellets'"},{"lookup":"ax","from":{"data":{"name":"elemAxes"},"key":"ax","fields":["k"]}},{"calculate":"PI/2 - datum.k*PI/4","as":"ang"},{"calculate":"[0, 1]","as":"e"},{"flatten":["e"]},{"calculate":"datum.e*cos(datum.ang)","as":"sx"},{"calculate":"datum.e*sin(datum.ang)","as":"sy"}],
 "mark":{"type":"line","stroke":"#a3a3a3","strokeWidth":1,"blend":"multiply"},
 "encoding":{
  "x":{"field":"s","type":"nominal","scale":{"type":"point","domain":["gd","ch","M1","M2"],"range":[114,585],"padding":0},"axis":null},
  "y":{"field":"t","type":"nominal","scale":{"type":"point","domain":["enamel","dentine"],"range":[57,164.3],"padding":0},"axis":null},
  "xOffset":{"field":"sx","type":"quantitative","scale":{"domain":[-1,1],"range":[-76,76]}},
  "yOffset":{"field":"sy","type":"quantitative","scale":{"domain":[-1,1],"range":[40,-40]}},
  "order":{"field":"e","type":"quantitative"},
  "detail":[{"field":"s","type":"nominal"},{"field":"t","type":"nominal"},{"field":"k","type":"nominal"}]}},
{"data":{"name":"elemAxes"},
 "transform":[{"calculate":"[0.07,0.72,1.01,0.79,0.07,-0.7,-0.88,-0.7][datum.k]","as":"lx"},{"calculate":"[1.07,0.8,0.05,-0.92,-1.05,-0.87,-0.2,0.8][datum.k]","as":"ly"}],
 "mark":{"type":"text","fontSize":17,"align":"center","baseline":"middle"},
 "encoding":{"x":{"datum":"M2","type":"nominal","scale":{"type":"point","domain":["gd","ch","M1","M2"],"range":[114,585],"padding":0},"axis":null},"y":{"datum":"dentine","type":"nominal","scale":{"type":"point","domain":["enamel","dentine"],"range":[57,164.3],"padding":0},"axis":null},"xOffset":{"field":"lx","type":"quantitative","scale":{"domain":[-1,1],"range":[-76,76]}},"yOffset":{"field":"ly","type":"quantitative","scale":{"domain":[-1,1],"range":[40,-40]}},"text":{"field":"ax","type":"nominal"}}},
{"data":{"values":[{}]},"mark":{"type":"text","text":"pellets","fontSize":19,"fontWeight":"bold","baseline":"middle"},
 "encoding":{"x":{"datum":"gd","type":"nominal","scale":{"type":"point","domain":["gd","ch","M1","M2"],"range":[114,585],"padding":0},"axis":null},"y":{"datum":"enamel","type":"nominal","scale":{"type":"point","domain":["enamel","dentine"],"range":[57,164.3],"padding":0},"axis":null},"xOffset":{"datum":1.04,"type":"quantitative","scale":{"domain":[-1,1],"range":[-76,76]}},"yOffset":{"datum":1.1,"type":"quantitative","scale":{"domain":[-1,1],"range":[40,-40]}}}},
{"data":{"values":[{}]},"mark":{"type":"text","text":"enamel","fontSize":19,"angle":270,"baseline":"middle"},
 "encoding":{"x":{"datum":"gd","type":"nominal","scale":{"type":"point","domain":["gd","ch","M1","M2"],"range":[114,585],"padding":0},"axis":null},"y":{"datum":"enamel","type":"nominal","scale":{"type":"point","domain":["enamel","dentine"],"range":[57,164.3],"padding":0},"axis":null},"xOffset":{"datum":-1.35,"type":"quantitative","scale":{"domain":[-1,1],"range":[-76,76]}},"yOffset":{"datum":0.25,"type":"quantitative","scale":{"domain":[-1,1],"range":[40,-40]}}}},
{"data":{"values":[{}]},"mark":{"type":"text","text":"dentine","fontSize":19,"angle":270,"baseline":"middle"},
 "encoding":{"x":{"datum":"gd","type":"nominal","scale":{"type":"point","domain":["gd","ch","M1","M2"],"range":[114,585],"padding":0},"axis":null},"y":{"datum":"dentine","type":"nominal","scale":{"type":"point","domain":["enamel","dentine"],"range":[57,164.3],"padding":0},"axis":null},"xOffset":{"datum":-1.35,"type":"quantitative","scale":{"domain":[-1,1],"range":[-76,76]}},"yOffset":{"datum":-0.17,"type":"quantitative","scale":{"domain":[-1,1],"range":[40,-40]}}}},
{"data":{"values":[{}]},"mark":{"type":"text","text":"d","fontSize":22,"baseline":"middle"},
 "encoding":{"x":{"datum":"gd","type":"nominal","scale":{"type":"point","domain":["gd","ch","M1","M2"],"range":[114,585],"padding":0},"axis":null},"y":{"datum":"dentine","type":"nominal","scale":{"type":"point","domain":["enamel","dentine"],"range":[57,164.3],"padding":0},"axis":null},"xOffset":{"datum":-1.37,"type":"quantitative","scale":{"domain":[-1,1],"range":[-76,76]}},"yOffset":{"datum":-1.22,"type":"quantitative","scale":{"domain":[-1,1],"range":[40,-40]}}}}
]}
]}
]
}
